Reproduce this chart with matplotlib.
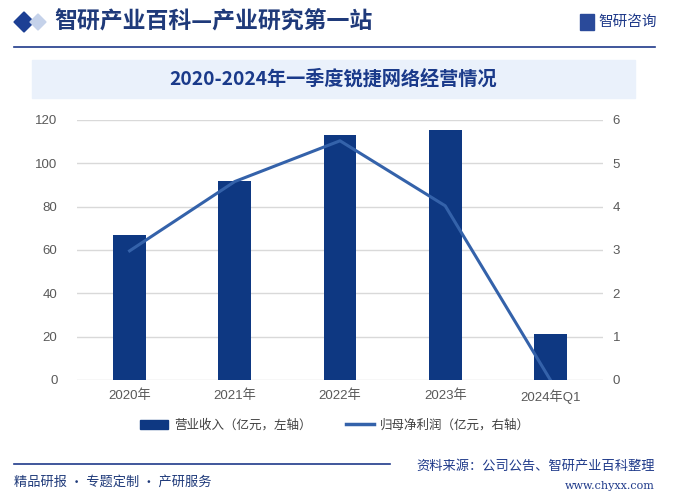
import numpy as np
import matplotlib
matplotlib.use("Agg")
import matplotlib.pyplot as plt
from matplotlib.patches import Rectangle, Polygon
from matplotlib.lines import Line2D

plt.rcParams["font.family"] = ["Noto Sans CJK SC", "DejaVu Sans"]

# ========= 数据 =========
categories = ["2020年", "2021年", "2022年", "2023年", "2024年Q1"]
revenue = [67, 92, 113, 115.5, 21.2]        # 营业收入（亿元，左轴）
net_profit = [2.98, 4.58, 5.52, 4.02, 0.0]  # 归母净利润（亿元，右轴）
left_ticks = [0, 20, 40, 60, 80, 100, 120]
right_ticks = [0, 1, 2, 3, 4, 5, 6]

title = "2020-2024年一季度锐捷网络经营情况"
bar_label = "营业收入（亿元，左轴）"
line_label = "归母净利润（亿元，右轴）"

bar_color = "#0e3882"
line_color = "#3462aa"
W, H = 674, 496
tick_font = ["Liberation Sans", "Noto Sans CJK SC"]


def fx(px):
    return px / W


def fy(py):
    return 1 - py / H


def main():
    fig = plt.figure(figsize=(6.74, 4.96), dpi=100)
    fig.patch.set_facecolor("white")

    # 顶部标题栏
    fig.patches.append(Polygon([[fx(14), fy(22)], [fx(24), fy(12)], [fx(34), fy(22)], [fx(24), fy(32)]],
                               closed=True, transform=fig.transFigure, color="#1c3f94"))
    fig.patches.append(Polygon([[fx(30), fy(22)], [fx(38), fy(14)], [fx(46), fy(22)], [fx(38), fy(30)]],
                               closed=True, transform=fig.transFigure, color="#c5d2ea"))
    fig.text(fx(54), fy(22), "智研产业百科—产业研究第一站", fontsize=16.5, fontweight="bold",
             color="#1f3a7a", ha="left", va="center")
    fig.patches.append(Rectangle((fx(580), fy(30)), fx(14), 16 / H, transform=fig.transFigure,
                                 color="#2a4a9a"))
    fig.text(fx(598), fy(22), "智研咨询", fontsize=10.5, color="#1f3a8a", ha="left", va="center")
    fig.add_artist(Line2D([fx(14), fx(655)], [fy(47), fy(47)], transform=fig.transFigure,
                          color="#1f3a8a", linewidth=1.2))

    # 图表标题框
    fig.patches.append(Rectangle((fx(32), fy(98)), fx(635 - 32), 38 / H, transform=fig.transFigure,
                                 color="#eaf1fb"))
    fig.text(fx(333), fy(79), title, fontsize=13.8, fontweight="bold", color="#1a3a8a",
             ha="center", va="center")

    # 主图
    ax = fig.add_axes([fx(77), fy(380), fx(603 - 77), (380 - 120) / H])
    x = np.arange(len(categories))
    ax.bar(x, revenue, width=0.31, color=bar_color, zorder=3, label=bar_label)
    ax.set_xlim(-0.5, len(categories) - 0.5)
    ax.set_ylim(0, 120)
    ax.set_yticks(left_ticks)
    ax.set_xticks(x)
    ax.set_xticklabels(categories)
    ax.grid(axis="y", color="#d9d9d9", linewidth=1, zorder=0)
    for s in ax.spines.values():
        s.set_visible(False)
    ax.tick_params(axis="both", length=0, labelsize=9.5, labelcolor="#595959")
    ax.tick_params(axis="y", pad=14)
    ax.tick_params(axis="x", pad=7)
    for lab in ax.get_xticklabels() + ax.get_yticklabels():
        lab.set_family(tick_font)

    ax2 = ax.twinx()
    ax2.plot(x, net_profit, color=line_color, linewidth=2.2, zorder=4, label=line_label)
    ax2.set_ylim(0, 6)
    ax2.set_yticks(right_ticks)
    for s in ax2.spines.values():
        s.set_visible(False)
    ax2.tick_params(axis="y", length=0, labelsize=9.5, labelcolor="#595959", pad=7)
    for lab in ax2.get_yticklabels():
        lab.set_family(tick_font)

    # 图例
    handles = [Rectangle((0, 0), 1, 1, color=bar_color),
               Line2D([0], [0], color=line_color, linewidth=2.5)]
    fig.legend(handles, [bar_label, line_label], loc="center", bbox_to_anchor=(fx(335), fy(425)),
               ncol=2, frameon=False, fontsize=9, handlelength=2.2, handletextpad=0.5,
               columnspacing=2.8, labelcolor="#404040")

    # 底部
    fig.add_artist(Line2D([fx(14), fx(390)], [fy(464), fy(464)], transform=fig.transFigure,
                          color="#1f3a8a", linewidth=1.2))
    fig.text(fx(14), fy(482), "精品研报 · 专题定制 · 产研服务", fontsize=9.5, color="#1f3a7a",
             ha="left", va="center")
    fig.text(fx(655), fy(466), "资料来源：公司公告、智研产业百科整理", fontsize=9.5, color="#1f3a8a",
             ha="right", va="center")
    fig.text(fx(655), fy(486), "www.chyxx.com", fontsize=8, color="#1f3a8a",
             ha="right", va="center", family="DejaVu Serif")

    fig.savefig("out.png", dpi=100)
    plt.close(fig)


if __name__ == "__main__":
    main()
